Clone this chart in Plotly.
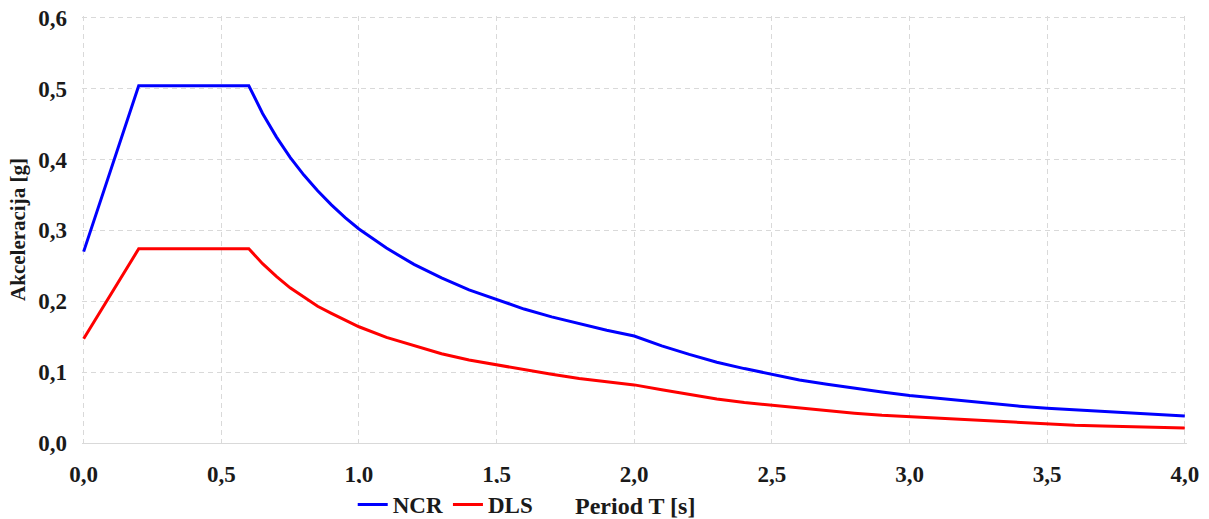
import plotly.graph_objects as go

# Period T [s]
period = [0.0, 0.2, 0.6, 0.65, 0.7, 0.75, 0.8, 0.85, 0.9, 0.95, 1.0,
          1.1, 1.2, 1.3, 1.4, 1.5, 1.6, 1.7, 1.8, 1.9, 2.0,
          2.1, 2.2, 2.3, 2.4, 2.5, 2.6, 2.7, 2.8, 2.9, 3.0,
          3.1, 3.2, 3.3, 3.4, 3.5, 3.6, 3.7, 3.8, 3.9, 4.0]

# akceleracija [g] - NCR
ncr = [0.270, 0.504, 0.504, 0.465, 0.432, 0.403, 0.378, 0.356, 0.336, 0.318, 0.302,
       0.275, 0.252, 0.233, 0.216, 0.202, 0.189, 0.178, 0.168, 0.159, 0.151,
       0.137, 0.125, 0.114, 0.105, 0.097, 0.089, 0.083, 0.077, 0.072, 0.067,
       0.063, 0.059, 0.056, 0.052, 0.049, 0.047, 0.044, 0.042, 0.040, 0.038]

# akceleracija [g] - DLS
dls = [0.147, 0.274, 0.274, 0.253, 0.235, 0.219, 0.206, 0.193, 0.183, 0.173, 0.164,
       0.149, 0.137, 0.126, 0.117, 0.110, 0.103, 0.097, 0.091, 0.087, 0.082,
       0.075, 0.068, 0.062, 0.057, 0.053, 0.049, 0.045, 0.042, 0.039, 0.037,
       0.034, 0.032, 0.030, 0.028, 0.027, 0.025, 0.024, 0.023, 0.022, 0.021]

FONT = "Liberation Serif, Times New Roman, serif"
TXT = "#1a1a1a"

fig = go.Figure()
fig.add_trace(go.Scatter(x=period, y=ncr, name="NCR", mode="lines",
                         line=dict(color="#0000ff", width=3)))
fig.add_trace(go.Scatter(x=period, y=dls, name="DLS", mode="lines",
                         line=dict(color="#ff0000", width=3)))

grid = dict(showgrid=True, gridcolor="#d9d9d9", griddash="5px,4px", gridwidth=1,
            zeroline=False, ticks="", tickformat=".1f", automargin=False,
            ticklabeloverflow="allow",
            tickfont=dict(size=23, family=FONT, color=TXT, weight="bold"))

# small padding on the ranges so the edge gridlines are still drawn
fig.update_xaxes(range=[-0.006, 4.008], tick0=0, dtick=0.5, **grid,
                 showline=True, linecolor="#d9d9d9", linewidth=1,
                 ticklabelstandoff=10)
fig.update_yaxes(range=[0, 0.6025], tick0=0, dtick=0.1, **grid, showline=False,
                 ticklabelstandoff=14,
                 title=dict(text="Akceleracija [g]", standoff=6,
                            font=dict(size=21, family=FONT, color=TXT, weight="bold")))

fig.add_annotation(text="Period T [s]", xref="paper", x=0.5, xanchor="center",
                   yref="paper", y=-0.148, yanchor="middle", showarrow=False,
                   font=dict(size=24, family=FONT, color=TXT, weight="bold"))

fig.update_layout(
    width=1209, height=519,
    margin=dict(l=82, r=22, t=16, b=76),
    plot_bgcolor="white", paper_bgcolor="white",
    separators=", ",
    font=dict(family=FONT, size=23, color=TXT, weight="bold"),
    legend=dict(orientation="h", x=0.245, xanchor="left",
                yref="container", y=0.028, yanchor="middle",
                font=dict(size=23, family=FONT, color=TXT, weight="bold"),
                itemwidth=30, tracegroupgap=0),
)

# drop the default 8px body margin so the figure sits at the page corner
fig.write_html("out.html", config={"displayModeBar": False},
               post_script="document.body.style.margin='0';")
